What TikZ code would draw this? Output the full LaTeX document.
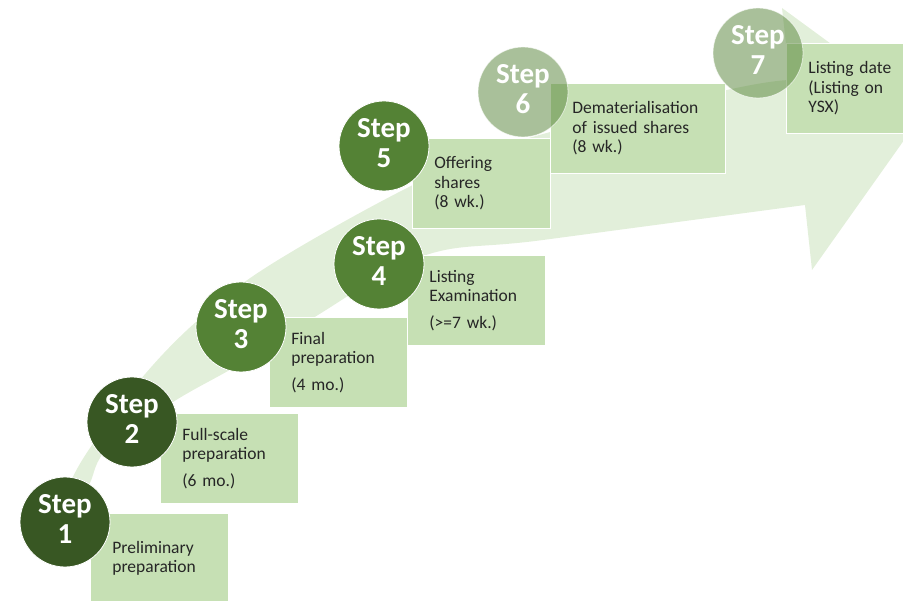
\documentclass[tikz,border=0pt]{standalone}
\usepackage{fontspec}
\setmainfont{Carlito}
\definecolor{arrowgreen}{HTML}{E2EFDA}
\definecolor{boxgreen}{HTML}{C6E0B4}
\definecolor{darkgreen}{HTML}{385723}
\definecolor{midgreen}{HTML}{548235}
\definecolor{textgray}{HTML}{262626}
\begin{document}
\begin{tikzpicture}
        [x=1pt, y=-1pt,
        circ/.style={circle, draw=white, line width=0.8pt, minimum size=90pt, inner sep=0pt},
        dark/.style={circ, fill=darkgreen},
        mid/.style={circ, fill=midgreen},
        pale/.style={circ, fill=midgreen, fill opacity=0.5, draw opacity=0.6},
        steptext/.style={text=white, inner sep=0pt, align=center,
          font=\fontsize{29}{30}\bfseries\selectfont},
        card/.style={rectangle, fill=boxgreen, draw=white, line width=0.8pt,
          minimum height=90pt, inner xsep=22pt, inner ysep=0pt, anchor=north west,
          align=left, text=textgray, font=\fontsize{17.5}{19.5}\selectfont},
        narrow/.style={card, text width=94pt},
        wide/.style={card, text width=131pt}]

        \useasboundingbox (0,0) rectangle (903,601);

        % big curved arrow in the background
        \fill[arrowgreen] plot[smooth, tension=0.6] coordinates {(66,500) (70,483) (90,448) (140,380) (197,321) (270,265) (413,185) (522,140) (727,90) (790,80)}
          -- (782,8) -- (924,112) -- (812,270) -- (805,205)
          -- plot[smooth, tension=0.6] coordinates {(805,205) (543,240) (423,256) (313,318) (240,364) (173,402) (108,448) (90,483) (80,505)} -- cycle;

        % boxes with the step texts
        \node[narrow] (b1) at (90,513) {Preliminary\\preparation};
        \node[narrow] (b2) at (160,413) {Full-scale\\preparation\\[7pt](6 mo.)};
        \node[narrow] (b3) at (269,317) {Final\\preparation\\[7pt](4 mo.)};
        \node[narrow] (b4) at (407,255) {Listing\\Examination\\[7pt](>=7 wk.)};
        \node[narrow] (b5) at (412,138) {Offering\\shares\\(8 wk.)};
        \node[wide] (b6) at (550,83) {Dematerialisation\\of issued shares\\(8 wk.)};
        \node[narrow] (b7) at (786,43) {Listing date\\(Listing on\\YSX)};

        % step circles
        \node[dark] (c1) at (65,522) {};
        \node[dark] (c2) at (132,422) {};
        \node[mid] (c3) at (241,327) {};
        \node[mid] (c4) at (379,264) {};
        \node[mid] (c5) at (384,146) {};
        \node[pale] (c6) at (523,92) {};
        \node[pale] (c7) at (758,53) {};

        % labels in the circles
        \node[steptext] (s1) at ([yshift=3pt]c1.center) {Step\\1};
        \node[steptext] (s2) at ([yshift=3pt]c2.center) {Step\\2};
        \node[steptext] (s3) at ([yshift=3pt]c3.center) {Step\\3};
        \node[steptext] (s4) at ([yshift=3pt]c4.center) {Step\\4};
        \node[steptext] (s5) at ([yshift=3pt]c5.center) {Step\\5};
        \node[steptext] (s6) at ([yshift=3pt]c6.center) {Step\\6};
        \node[steptext] (s7) at ([yshift=3pt]c7.center) {Step\\7};

        \end{tikzpicture}
\end{document}
